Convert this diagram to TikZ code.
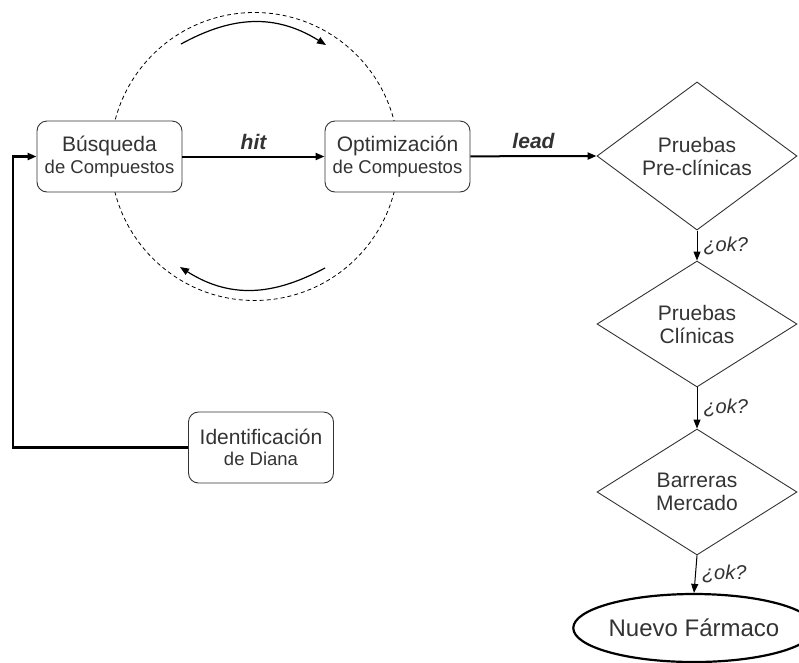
\documentclass[tikz,border=0pt]{standalone}
\usepackage{fontspec}
\setmainfont{Liberation Sans}
\usetikzlibrary{shapes.geometric,arrows.meta}
\definecolor{txt}{gray}{0.2}
\tikzset{
  box/.style={draw=black!80, line width=0.9pt, rounded corners=10pt, minimum width=145pt, minimum height=71pt, fill=white, inner sep=0pt, align=center, text=txt, font=\fontsize{21}{21.5}\selectfont},
  dia/.style={draw=black!80, line width=0.9pt, shape=diamond, minimum width=200pt, minimum height=126pt, inner sep=0pt, align=center, text=txt, font=\fontsize{21}{23}\selectfont},
  flow/.style={line width=2pt, -{Triangle[length=9pt,width=7pt]}},
  down/.style={line width=1pt, -{Triangle[length=9pt,width=7pt]}},
  lbl/.style={text=txt, inner sep=0pt},
}
\newcommand{\Lone}[1]{{\fontsize{21}{21.5}\selectfont #1}}
\newcommand{\Ltwo}[1]{{\fontsize{18.5}{21.5}\selectfont #1}}
\begin{document}
\begin{tikzpicture}[x=1pt,y=-1pt]
\useasboundingbox (0,0) rectangle (799,662);
% dashed cycle
\draw[dashed, dash pattern=on 4pt off 3pt, line width=0.8pt] (254.5,156.5) circle[radius=144];
\coordinate (t1) at (181,44);
\coordinate (t2) at (326,45);
\coordinate (b1) at (325,268);
\coordinate (b2) at (180,267);
\draw[line width=1.2pt, -{Triangle[length=9pt,width=7pt]}] (t1) .. controls (225,20) and (270,10) .. (t2);
\draw[line width=1.2pt, -{Triangle[length=9pt,width=7pt]}] (b1) .. controls (280,292) and (235,302) .. (b2);
% nodes
\node[box] (bus) at (109.5,156.5) {\Lone{Búsqueda}\\\Ltwo{de Compuestos}};
\node[box] (opt) at (397.5,156.5) {\Lone{Optimización}\\\Ltwo{de Compuestos}};
\node[box] (ide) at (261,447.5) {\Lone{Identificación}\\\Ltwo{de Diana}};
\node[dia] (d1) at (697,156) {Pruebas\\Pre-clínicas};
\node[dia] (d2) at (697,324) {Pruebas\\Clínicas};
\node[dia] (d3) at (697,492) {Barreras\\Mercado};
\node[draw=black, line width=2.2pt, ellipse, minimum width=206pt, minimum height=68pt, inner sep=0pt, text=txt, font=\fontsize{24}{26}\selectfont] (nf) at (694,628) {Nuevo Fármaco};
% connectors
\draw[flow] (bus) -- node[lbl, above=6pt, font=\fontsize{21}{21}\selectfont\bfseries\itshape] (hit) {hit} (opt);
\draw[flow] (opt) -- node[lbl, above=6pt, font=\fontsize{21}{21}\selectfont\bfseries\itshape] (lead) {lead} (d1.west);
\draw[down] (d1.south) -- node[lbl, right=6pt, font=\fontsize{20}{20}\selectfont\itshape] (ok1) {¿ok?} (d2.north);
\draw[down] (d2.south) -- node[lbl, right=6pt, font=\fontsize{20}{20}\selectfont\itshape] (ok2) {¿ok?} (d3.north);
\draw[down] (d3.south) -- node[lbl, right=6pt, font=\fontsize{20}{20}\selectfont\itshape] (ok3) {¿ok?} (nf.north);
\coordinate (c1) at (13,447.5);
\coordinate (c2) at (13,156.5);
\draw[line width=2.5pt, -{Triangle[length=9pt,width=7pt]}] (ide.west) -- (c1) -- (c2) -- (bus.west);
\end{tikzpicture}
\end{document}
